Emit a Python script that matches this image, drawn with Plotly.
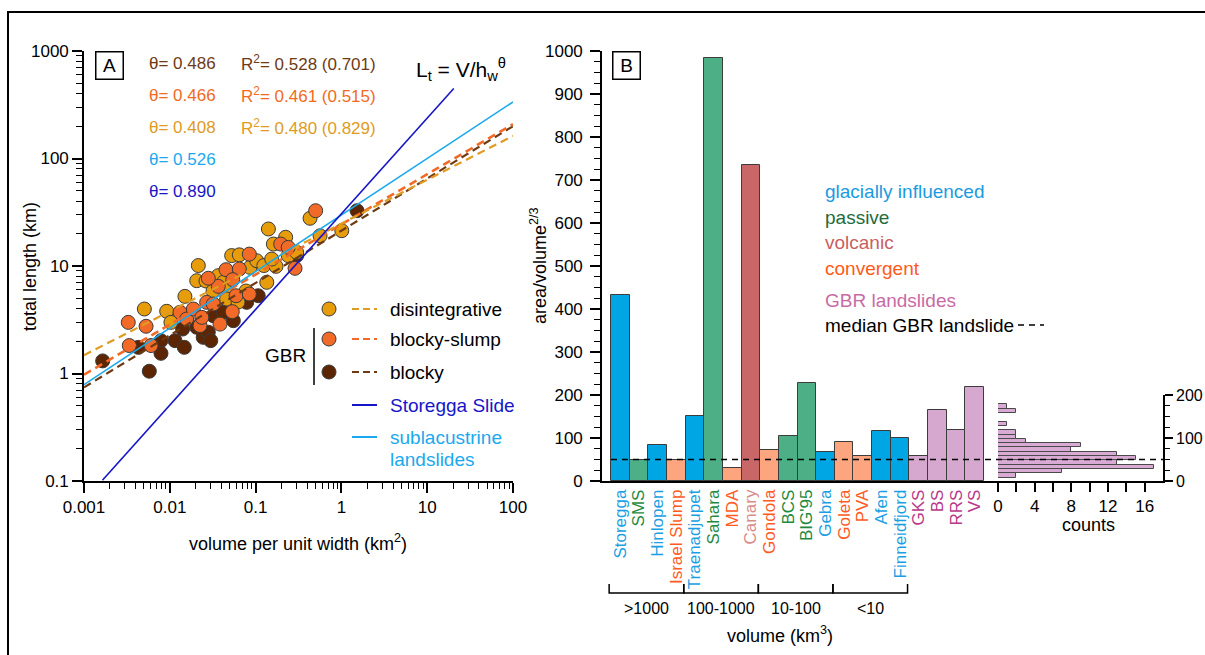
import plotly.graph_objects as go

W, H = 1205, 655
FONT = "Liberation Sans, Arial, Helvetica, sans-serif"


def PX(x):
    return x / W


def PY(y):
    return 1 - y / H


# ---------------- Panel A data (volume per unit width km2, total length km) ----------------
disint_x = [0.00505, 0.0092, 0.0103, 0.0150, 0.0206, 0.0215, 0.0367, 0.0421, 0.0460, 0.0460,
            0.0624, 0.0526, 0.0646, 0.0861, 0.103, 0.125, 0.173, 0.240, 0.301, 0.135,
            0.564, 1.01, 0.161, 0.224, 0.141, 0.431, 0.154, 0.0264, 0.0773, 0.0319]
disint_y = [3.98, 3.79, 2.99, 5.22, 7.30, 10.1, 8.13, 7.05, 6.11, 4.93,
            4.62, 12.5, 12.7, 9.72, 11.2, 10.1, 9.93, 12.5, 13.4, 7.05,
            19.1, 21.3, 16.0, 18.5, 22.1, 27.8, 11.6, 7.25, 5.85, 5.85]

bslump_x = [0.00328, 0.00529, 0.00337, 0.00604, 0.01315, 0.0157, 0.0188, 0.0225, 0.0269, 0.0321,
            0.0367, 0.0385, 0.0535, 0.0592, 0.0845, 0.0845, 0.0452, 0.0646, 0.0541, 0.0281,
            0.196, 0.240, 0.288, 0.0236, 0.501]
bslump_y = [2.99, 2.75, 1.82, 1.82, 3.71, 3.21, 3.98, 2.79, 4.59, 4.43,
            6.47, 2.88, 3.76, 5.29, 5.49, 12.9, 9.24, 9.38, 7.46, 7.69,
            16.0, 14.9, 9.52, 3.33, 32.7]

blocky_x = [0.00165, 0.0043, 0.00789, 0.00789, 0.0115, 0.01476, 0.00577, 0.0141, 0.0206, 0.0245,
            0.0281, 0.0300, 0.0321, 0.0421, 0.0550, 0.0787, 0.1074, 0.301, 1.52]
blocky_y = [1.31, 1.75, 2.02, 1.54, 2.02, 1.75, 1.05, 2.59, 2.69, 2.17,
            2.42, 2.02, 3.45, 3.71, 3.10, 4.59, 5.29, 12.5, 32.7]

# power-law fits  L = c * V**theta
fit_theta = [0.486, 0.466, 0.408, 0.526, 0.890]
fit_coef = [21.3, 24.4, 24.8, 29.8, 30.6]
fit_xmin = [0.001, 0.001, 0.001, 0.001, 0.00164]
fit_xmax = [100, 100, 100, 100, 20.4]
fit_r2 = ["0.528 (0.701)", "0.461 (0.515)", "0.480 (0.829)"]

# ---------------- Panel B data ----------------
sites = ["Storegga", "SMS", "Hinlopen", "Israel Slump", "Traenadjupet", "Sahara", "MDA", "Canary",
         "Gondola", "BCS", "BIG'95", "Gebra", "Goleta", "PVA", "Afen", "Finneidfjord",
         "GKS", "BS", "RRS", "VS"]
settings = ["glacial", "passive", "glacial", "convergent", "glacial", "passive", "convergent", "volcanic",
            "convergent", "passive", "passive", "glacial", "convergent", "convergent", "glacial", "glacial",
            "GBR", "GBR", "GBR", "GBR"]
area_vol = [433, 50, 83, 48, 151, 984, 30, 736, 73, 104, 227, 68, 90, 59, 117, 101, 57, 164, 119, 219]
median_gbr = 50
vol_groups = [">1000", "100-1000", "10-100", "<10"]

hist_bin_lo = [8, 18, 28, 38, 48, 58, 68, 78, 88, 98, 108, 118, 128, 138, 148, 158, 168]
hist_counts = [2, 7, 17, 13, 15, 13, 8, 9, 3, 2, 2, 0, 1, 0, 0, 2, 1]

# ---------------- colours ----------------
C_DIS = "#e79d0b"
C_BSL = "#f26a27"
C_BLK = "#5c2604"
T_DIS = "#e09b22"
T_BSL = "#f26a21"
T_BLK = "#6e3a14"
C_LAKE = "#1aa9ee"
C_STOR = "#1616c8"

BAR_COL = {"glacial": "#00a6e4", "passive": "#4daf85", "volcanic": "#c96667",
           "convergent": "#fca57e", "GBR": "#d6a8d0"}
LAB_COL = {"glacial": "#1a9fe3", "passive": "#1f8a3f", "volcanic": "#d98b8b",
           "convergent": "#ff5b1f", "GBR": "#b8398a"}

fig = go.Figure()

mk = dict(size=14, line=dict(color="#3a3a3a", width=1))
fig.add_trace(go.Scatter(x=blocky_x, y=blocky_y, mode="markers",
                         marker=dict(color=C_BLK, **mk), xaxis="x", yaxis="y"))
fig.add_trace(go.Scatter(x=disint_x, y=disint_y, mode="markers",
                         marker=dict(color=C_DIS, **mk), xaxis="x", yaxis="y"))
fig.add_trace(go.Scatter(x=bslump_x, y=bslump_y, mode="markers",
                         marker=dict(color=C_BSL, **mk), xaxis="x", yaxis="y"))

fit_cols = [T_BLK, C_BSL, T_DIS, C_LAKE, C_STOR]
fit_dash = ["dash", "dash", "dash", "solid", "solid"]
fit_w = [2.2, 2.6, 2.2, 1.6, 1.6]
for i in range(5):
    xs = [fit_xmin[i], fit_xmax[i]]
    ys = [fit_coef[i] * v ** fit_theta[i] for v in xs]
    fig.add_trace(go.Scatter(x=xs, y=ys, mode="lines",
                             line=dict(color=fit_cols[i], width=fit_w[i],
                                       dash="8px,5px" if fit_dash[i] == "dash" else "solid"),
                             xaxis="x", yaxis="y"))

# Panel B bars
idx = list(range(len(sites)))
fig.add_trace(go.Bar(x=idx, y=area_vol, width=1.0,
                     marker=dict(color=[BAR_COL[s] for s in settings],
                                 line=dict(color="#3c3c3c", width=1)),
                     xaxis="x2", yaxis="y2"))

# histogram of GBR landslides
fig.add_trace(go.Bar(x=hist_counts, y=[b + 5 for b in hist_bin_lo], orientation="h", width=10,
                     marker=dict(color="#d9abd4", line=dict(color="#4a4a4a", width=1)),
                     xaxis="x3", yaxis="y3"))

axcommon = dict(showline=True, linecolor="black", linewidth=1.6, ticks="outside",
                tickcolor="black", tickwidth=1.5, showgrid=False, zeroline=False,
                automargin=False,
                tickfont=dict(family=FONT, size=17, color="black"))

minor_x = [m * 10 ** k for k in range(-3, 2) for m in range(2, 10)]
minor_y = [m * 10 ** k for k in range(-1, 3) for m in range(2, 10)]

ydom = [PY(481), PY(51)]

fig.update_layout(
    template="none",
    width=W, height=H, margin=dict(l=0, r=0, t=0, b=0, pad=0, autoexpand=False), autosize=False,
    paper_bgcolor="white", plot_bgcolor="rgba(0,0,0,0)", showlegend=False,
    font=dict(family=FONT, color="black"),
    bargap=0,
    xaxis=dict(type="log", range=[-3, 2], domain=[PX(84), PX(513)], anchor="y",
               tickvals=[0.001, 0.01, 0.1, 1, 10, 100],
               ticktext=["0.001", "0.01", "0.1", "1", "10", "100"], ticklen=10,
               minor=dict(tickvals=minor_x, ticks="outside", ticklen=6,
                          tickcolor="black", tickwidth=1.3, showgrid=False),
               **axcommon),
    yaxis=dict(type="log", range=[-1, 3], domain=ydom, anchor="x",
               tickvals=[0.1, 1, 10, 100, 1000],
               ticktext=["0.1", "1", "10", "100", "1000"], ticklen=10,
               minor=dict(tickvals=minor_y, ticks="outside", ticklen=6,
                          tickcolor="black", tickwidth=1.3, showgrid=False),
               **axcommon),
    xaxis2=dict(range=[-0.983, 20.25], domain=[PX(602), PX(998)], anchor="y2",
                tickmode="array", tickvals=idx,
                ticktext=["<span style='color:%s'>%s</span>" % (LAB_COL[s], n)
                          for n, s in zip(sites, settings)],
                tickangle=-90, showline=True, linecolor="black", linewidth=1.6,
                ticks="", showgrid=False, zeroline=False, automargin=False,
                tickfont=dict(family=FONT, size=17)),
    yaxis2=dict(range=[0, 1000], domain=ydom, anchor="x2", dtick=100, tick0=0, ticklen=10,
                ticklabelstandoff=4,
                minor=dict(dtick=25, ticks="outside", ticklen=6, tickcolor="black",
                           tickwidth=1.3, showgrid=False),
                **axcommon),
    xaxis3=dict(range=[0, 18], domain=[PX(998), PX(1163)], anchor="y3",
                tickmode="array", tickvals=[0, 2, 4, 6, 8, 10, 12, 14, 16],
                ticktext=["0", "", "4", "", "8", "", "12", "", "16"], ticklen=9,
                **axcommon),
    yaxis3=dict(range=[0, 200], domain=[PY(481), PY(395)], anchor="x3", side="right",
                tickmode="array", tickvals=[0, 100, 200], ticklen=8,
                minor=dict(dtick=25, ticks="outside", ticklen=5, tickcolor="black",
                           tickwidth=1.3, showgrid=False),
                **{**axcommon, "tickfont": dict(family=FONT, size=16, color="black")}),
)

shapes = []
annots = []


def text(x, y, s, size=17, color="black", xa="left", ya="middle", angle=0):
    annots.append(dict(x=PX(x), y=PY(y), xref="paper", yref="paper", text=s, showarrow=False,
                       xanchor=xa, yanchor=ya, textangle=angle,
                       font=dict(family=FONT, size=size, color=color)))


# outer frame (right and bottom edges run off the picture)
shapes.append(dict(type="rect", xref="paper", yref="paper", x0=PX(8), x1=PX(1212),
                   y0=PY(12), y1=PY(662), line=dict(color="black", width=2)))

# panel labels
for lab, cx in (("A", 109), ("B", 626)):
    annots.append(dict(x=PX(cx), y=PY(65), xref="paper", yref="paper", text=lab, showarrow=False,
                       xanchor="center", yanchor="middle", width=24, height=24, borderpad=1,
                       bordercolor="black", borderwidth=1.5,
                       font=dict(family=FONT, size=19, color="black")))

# theta / R2 block
th_cols = [T_BLK, T_BSL, T_DIS, C_LAKE, C_STOR]
th_y = [63, 95, 127, 160, 192]
for i in range(5):
    text(147, th_y[i], "θ= %.3f" % fit_theta[i], 17, th_cols[i])
    if i < 3:
        text(239, th_y[i], "R<sup>2</sup>= " + fit_r2[i], 17, th_cols[i])
text(414, 70, "L<sub>t</sub> = V/h<sub>w</sub><sup>θ</sup>", 21, "black")

# panel A axis titles
text(298, 542, "volume per unit width (km<sup>2</sup>)", 18, xa="center")
text(30, 267, "total length (km)", 18, xa="center", angle=-90)

# panel A legend
leg = [(309, C_DIS, T_DIS, "disintegrative"), (339, C_BSL, C_BSL, "blocky-slump"),
       (372, C_BLK, T_BLK, "blocky")]
for yy, mc, lc, lab in leg:
    shapes.append(dict(type="circle", xref="paper", yref="paper",
                       x0=PX(322), x1=PX(336), y0=PY(yy + 7), y1=PY(yy - 7),
                       fillcolor=mc, line=dict(color="#3a3a3a", width=1)))
    shapes.append(dict(type="line", xref="paper", yref="paper", x0=PX(352), x1=PX(377),
                       y0=PY(yy), y1=PY(yy), line=dict(color=lc, width=2.2, dash="7px,4px")))
    text(388, yy, lab, 19)
text(308, 355, "GBR", 19, xa="right")
shapes.append(dict(type="line", xref="paper", yref="paper", x0=PX(314), x1=PX(314),
                   y0=PY(328), y1=PY(385), line=dict(color="black", width=1.5)))
for yy, lc, lab in ((405, C_STOR, "Storegga Slide"), (437, C_LAKE, "sublacustrine")):
    shapes.append(dict(type="line", xref="paper", yref="paper", x0=PX(352), x1=PX(377),
                       y0=PY(yy), y1=PY(yy), line=dict(color=lc, width=2)))
    text(388, yy, lab, 19, lc)
text(388, 460, "landslides", 19, C_LAKE)

# panel B texts
text(538, 266, "area/volume<sup>2/3</sup>", 18, xa="center", angle=-90)
leg_b = [(192, "#1a9be0", "glacially influenced"), (217, "#1e6b3c", "passive"),
         (243, "#c8605f", "volcanic"), (269, "#ff5a1a", "convergent"),
         (300, "#c76ba5", "GBR landslides"), (325, "black", "median GBR landslide")]
for yy, c, lab in leg_b:
    text(823, yy, lab, 19, c)
shapes.append(dict(type="line", xref="paper", yref="paper", x0=PX(1018), x1=PX(1044),
                   y0=PY(325), y1=PY(325), line=dict(color="black", width=1.3, dash="6px,5px")))

# median line
shapes.append(dict(type="line", xref="paper", yref="y2", x0=PX(611), x1=PX(1163),
                   y0=median_gbr, y1=median_gbr, line=dict(color="black", width=1.3, dash="6px,5px")))

# volume group brackets
for k, g in enumerate(vol_groups):
    a, b = 4 * k - 0.6, 4 * k + 3.4
    shapes.append(dict(type="path", xref="x2", yref="paper",
                       path="M %f,%f L %f,%f L %f,%f L %f,%f" % (a, PY(584), a, PY(593), b, PY(593), b, PY(584)),
                       line=dict(color="black", width=1.5)))
    annots.append(dict(x=(a + b) / 2, y=PY(608), xref="x2", yref="paper", text=g, showarrow=False,
                       xanchor="center", yanchor="middle", font=dict(family=FONT, size=16, color="black")))
text(780, 634, "volume (km<sup>3</sup>)", 18, xa="center")
text(1088, 525, "counts", 18, xa="center")

fig.update_layout(shapes=shapes, annotations=annots)
fig.write_html("out.html")
